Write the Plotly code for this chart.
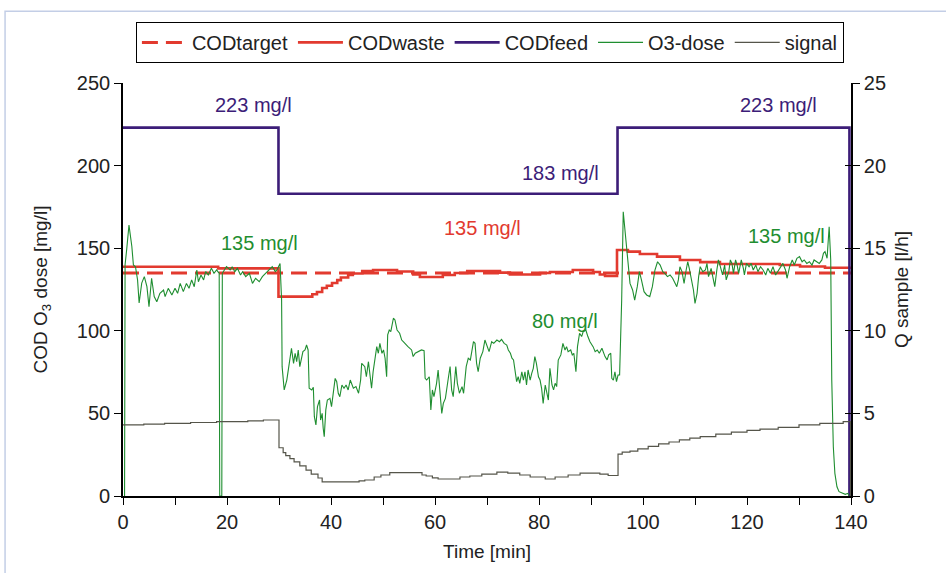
import plotly.graph_objects as go

# ---------------- data ----------------
target_x = [0, 140]
target_y = [135, 135]

waste_x = [0, 18.3, 29.9, 36.4, 37.3, 38.3, 39.2, 40.2, 41.2, 41.9, 43.3, 44.2, 46.0, 48.1,
           52.7, 55.8, 57.1, 61.5, 63.8, 66.2, 72.5, 74.4, 80.2, 82.1, 86.5, 90.4, 91.7,
           92.7, 95.0, 97.1, 99.4, 102.7, 107.1, 111.0, 114.8, 126.3, 130.2, 135.0, 140.0]
waste_y = [138.8, 137.8, 120.7, 122.1, 123.5, 125.9, 127.3, 128.9, 130.7, 132.3, 133.8, 134.7,
           136.2, 136.8, 135.9, 134.1, 132.6, 133.8, 135.0, 136.2, 135.2, 134.1, 135.0, 135.6,
           136.8, 135.6, 134.1, 133.2, 148.9, 147.9, 146.5, 144.9, 142.9, 141.6, 140.4, 139.8,
           138.9, 138.2, 137.8]

feed_x = [0, 29.9, 95.1, 139.7]
feed_y = [223, 183, 223, 0]

o3_x = [0.3, 0.4, 0.7, 1.15, 1.7, 2.0, 2.4, 2.8, 3.1, 3.6, 4.1, 4.6, 5.0, 5.5, 6.0, 6.5, 7.1,
        7.8, 8.1, 8.7, 9.4, 10.0, 10.5, 11.0, 11.6, 12.2, 12.7, 13.2, 13.7, 14.2, 14.5, 15.0,
        15.5, 15.9, 16.4, 17.0, 17.5, 18.0, 18.5, 18.6, 19.0, 19.1, 19.9, 20.6, 21.0, 21.5,
        22.0, 22.6, 23.0, 23.6, 24.3, 24.9, 25.5, 26.2, 26.8, 27.4, 28.1, 28.7, 29.3, 29.6,
        30.2, 30.5, 30.6, 31.0, 31.5, 32.0, 32.4, 32.8, 33.1, 33.4, 33.7, 34.0, 34.6, 35.0,
        35.3, 35.6, 35.8, 36.3, 36.6, 36.8, 37.1, 37.4, 37.8, 38.0, 38.3, 38.5, 38.7, 39.0,
        39.3, 39.8, 40.1, 40.8, 41.1, 41.4, 41.7, 42.1, 42.5, 42.9, 43.3, 43.7, 44.0, 44.3,
        44.8, 45.3, 45.7, 45.9, 46.5, 46.8, 47.2, 47.5, 47.8, 48.1, 48.5, 48.8, 49.1, 49.4,
        49.8, 50.1, 50.4, 50.7, 50.9, 51.2, 51.5, 52.0, 52.3, 52.7, 53.2, 53.6, 53.9, 54.4,
        54.8, 55.5, 55.8, 56.2, 56.8, 57.4, 57.9, 58.1, 58.4, 58.9, 59.2, 59.5, 59.8, 60.3,
        60.6, 60.9, 61.3, 61.6, 62.0, 62.6, 62.9, 63.2, 63.5, 64.0, 64.3, 64.7, 65.2, 65.5,
        66.0, 66.4, 66.8, 67.4, 67.7, 68.0, 68.3, 68.7, 69.2, 69.6, 69.9, 70.4, 70.9, 71.3,
        71.9, 72.4, 72.8, 73.3, 73.8, 74.1, 74.5, 74.8, 75.1, 75.4, 75.7, 76.0, 76.3, 76.7,
        77.0, 77.3, 77.6, 77.9, 78.3, 78.6, 78.9, 79.2, 79.5, 79.9, 80.2, 80.5, 80.8, 81.2,
        81.5, 81.8, 82.1, 82.5, 82.8, 83.1, 83.4, 83.7, 84.2, 84.6, 85.0, 85.3, 85.6, 86.1,
        86.4, 86.7, 87.1, 87.4, 87.8, 88.2, 88.5, 89.0, 89.4, 89.8, 90.4, 90.8, 91.2, 91.6,
        92.1, 92.4, 92.7, 93.1, 93.4, 93.8, 94.0, 94.3, 94.6, 94.9, 95.2, 95.5, 95.9, 96.2,
        96.7, 97.2, 97.5, 98.0, 98.4, 98.9, 99.3, 99.7, 100.2, 100.7, 101.3, 101.8, 102.3,
        102.8, 103.3, 103.8, 104.2, 104.7, 105.2, 105.7, 106.2, 106.5, 106.8, 107.1, 107.5,
        107.9, 108.3, 108.6, 108.9, 109.4, 109.7, 110.0, 110.4, 110.7, 111.0, 111.5, 112.0,
        112.3, 112.6, 113.1, 113.5, 113.8, 114.2, 114.5, 114.8, 115.3, 115.7, 116.0, 116.5,
        116.8, 117.1, 117.4, 117.8, 118.1, 118.4, 118.9, 119.3, 119.5, 119.9, 120.4, 120.8,
        121.2, 121.7, 122.1, 122.6, 123.1, 123.6, 124.0, 124.5, 125.0, 125.5, 125.9, 126.4,
        126.9, 127.4, 127.7, 128.2, 128.7, 129.1, 129.6, 130.1, 130.6, 131.0, 131.5, 132.0,
        132.5, 132.9, 133.4, 133.9, 134.4, 134.7, 135.0, 135.4, 135.8, 136.1, 136.3, 136.45,
        136.6, 136.9, 137.3, 137.7, 138.3, 138.9, 139.4, 139.6]
o3_y = [0, 140.0, 148.9, 164.0, 151.0, 139.8, 138.8, 130.8, 116.8, 128.9, 132.8, 126.7, 114.6,
        131.8, 120.7, 117.6, 122.7, 124.7, 120.7, 125.7, 121.7, 125.7, 122.7, 128.7, 123.7,
        128.7, 125.7, 130.8, 126.7, 136.8, 129.7, 133.8, 130.8, 135.8, 133.8, 137.8, 134.8,
        136.8, 134.8, 0, 0, 134.8, 138.8, 136.8, 138.8, 135.8, 137.8, 133.8, 135.8, 132.8,
        134.8, 128.7, 131.8, 129.7, 132.8, 134.8, 136.8, 138.8, 135.8, 136.8, 140.8, 118.6,
        78.3, 64.2, 70.2, 80.3, 89.4, 80.3, 86.4, 81.3, 88.4, 78.3, 87.4, 88.4, 91.4, 88.4,
        65.2, 64.2, 65.8, 48.0, 43.0, 54.1, 58.1, 46.0, 50.0, 41.0, 35.9, 52.1, 58.1, 59.1,
        54.1, 71.2, 69.2, 62.2, 60.1, 67.2, 65.2, 67.2, 64.2, 70.2, 68.2, 65.2, 66.2, 62.2,
        70.2, 80.3, 78.3, 72.2, 81.3, 71.2, 65.2, 75.2, 83.4, 90.4, 86.4, 92.4, 86.4, 88.4,
        83.4, 72.2, 97.5, 100.5, 99.5, 107.6, 106.6, 100.5, 98.5, 94.4, 93.4, 91.4, 90.4,
        88.4, 84.4, 86.4, 87.4, 88.4, 88.0, 71.2, 70.2, 72.2, 52.1, 64.2, 60.1, 68.2, 76.3,
        66.2, 50.0, 56.1, 59.1, 72.2, 78.3, 64.2, 60.1, 78.3, 68.2, 62.2, 66.2, 62.2, 78.3,
        83.4, 82.4, 93.4, 92.4, 80.3, 75.2, 83.4, 87.4, 94.4, 91.4, 87.4, 93.4, 92.4, 94.4,
        93.4, 94.8, 92.4, 91.4, 88.4, 86.4, 83.4, 82.4, 76.3, 69.2, 72.2, 68.2, 75.2, 70.2,
        75.2, 67.2, 76.3, 70.2, 74.2, 77.3, 84.4, 80.3, 72.2, 70.2, 65.2, 56.1, 67.2, 62.2,
        58.1, 77.3, 67.2, 64.2, 68.2, 66.2, 82.3, 85.4, 92.4, 88.4, 90.4, 87.4, 88.4, 85.4,
        86.4, 75.2, 90.4, 98.5, 96.5, 99.5, 100.5, 96.5, 93.4, 90.4, 87.4, 88.4, 86.4, 89.4,
        86.4, 84.4, 82.4, 85.4, 86.4, 71.2, 70.2, 75.2, 69.2, 73.2, 73.2, 118.6, 172.1, 155.0,
        140.8, 128.7, 124.7, 118.6, 126.7, 135.8, 130.8, 123.7, 121.7, 120.7, 126.7, 136.8,
        141.8, 139.8, 135.8, 134.8, 132.8, 133.8, 131.8, 128.7, 126.7, 130.8, 138.8, 135.8,
        128.7, 136.8, 141.8, 137.8, 130.8, 124.7, 116.6, 122.7, 132.8, 138.8, 135.8, 136.8,
        140.8, 132.8, 137.8, 130.8, 126.7, 136.8, 142.9, 139.8, 133.8, 139.8, 130.8, 135.8,
        142.9, 140.8, 134.8, 142.9, 139.8, 134.8, 142.9, 137.8, 133.8, 140.8, 138.8, 140.8,
        136.8, 139.8, 135.8, 138.8, 136.8, 133.8, 137.8, 134.8, 138.8, 133.8, 135.8, 138.8,
        140.8, 136.8, 131.8, 138.8, 142.9, 139.8, 143.9, 144.9, 141.8, 142.9, 140.8, 141.8,
        139.8, 142.9, 141.8, 140.8, 142.9, 146.9, 147.9, 143.9, 163.0, 142.9, 70.2, 50.0,
        29.8, 13.7, 5.6, 2.6, 1.8, 1.0, 1.6, 0]

signal_x = [0, 4, 8, 13, 18, 24, 27, 30.0, 30.8, 31.3, 32.1, 32.9, 34.0, 35.2, 36.2, 37.5,
            38.3, 45.4, 46.5, 48.3, 49.6, 51.3, 57.5, 58.3, 59.5, 60.6, 64.8, 66.7, 69.0,
            71.9, 74.0, 76.3, 78.3, 81.2, 83.1, 85.6, 87.9, 91.7, 93.3, 95.2, 96.0, 97.5,
            99.0, 101.0, 103.0, 105.0, 107.0, 109.0, 111.0, 114.0, 117.0, 120.0, 122.5,
            126.0, 130.0, 134.0, 138.5, 139.9]
signal_y = [4.3, 4.35, 4.4, 4.45, 4.5, 4.55, 4.6, 2.92, 2.62, 2.44, 2.26, 2.06, 1.82, 1.57,
            1.33, 1.09, 0.85, 0.91, 0.97, 1.15, 1.27, 1.42, 1.27, 1.21, 1.1, 1.03, 1.15, 1.21,
            1.33, 1.45, 1.39, 1.27, 1.15, 1.03, 1.15, 1.27, 1.39, 1.33, 1.24, 2.54, 2.66,
            2.72, 2.85, 3.0, 3.15, 3.27, 3.4, 3.5, 3.6, 3.75, 3.87, 3.97, 4.05, 4.15, 4.3,
            4.4, 4.5, 0]

# annotation labels
labels_text = ["223 mg/l", "223 mg/l", "183 mg/l", "135 mg/l", "135 mg/l", "80 mg/l", "135 mg/l"]
labels_x = [25.0, 126.0, 84.2, 26.3, 69.2, 85.0, 127.5]
labels_y = [236.7, 236.7, 195.5, 153.0, 162.5, 106.0, 157.4]

RED = "#e23a2f"
PURPLE = "#3c1d78"
GREEN = "#1f8e30"
SIGNAL = "#55554a"
labels_col = [PURPLE, PURPLE, PURPLE, GREEN, RED, GREEN, GREEN]

FONT = "Liberation Sans, Arial, sans-serif"
FS = 20

fig = go.Figure()
fig.add_trace(go.Scatter(x=target_x, y=target_y, name="CODtarget", mode="lines",
                         line=dict(color=RED, width=3, dash="16px,8px")))
fig.add_trace(go.Scatter(x=waste_x, y=waste_y, name="CODwaste", mode="lines",
                         line=dict(color=RED, width=2.6, shape="hv")))
fig.add_trace(go.Scatter(x=feed_x, y=feed_y, name="CODfeed", mode="lines",
                         line=dict(color=PURPLE, width=2.6, shape="hv")))
fig.add_trace(go.Scatter(x=o3_x, y=o3_y, name="O3-dose", mode="lines",
                         line=dict(color=GREEN, width=1.1)))
fig.add_trace(go.Scatter(x=signal_x, y=signal_y, name="signal", mode="lines", yaxis="y2",
                         line=dict(color=SIGNAL, width=1.2, shape="hv")))

for t, x, y, c in zip(labels_text, labels_x, labels_y, labels_col):
    fig.add_annotation(x=x, y=y, text=t, showarrow=False, xref="x", yref="y",
                       font=dict(size=FS, color=c, family=FONT))

axis_common = dict(showline=True, linecolor="black", linewidth=1.6, ticks="outside",
                   ticklen=7, tickcolor="black", tickwidth=1, showgrid=False,
                   zeroline=False, tickfont=dict(size=FS, color="#222", family=FONT))

fig.update_layout(
    width=946, height=573,
    margin=dict(l=123, r=95, t=83, b=77),
    paper_bgcolor="white", plot_bgcolor="white",
    font=dict(family=FONT, size=FS, color="#222"),
    xaxis=dict(range=[0, 140], dtick=20, tick0=0,
               minor=dict(dtick=10, ticks="outside", ticklen=7, tickcolor="black"),
               title=dict(text="Time [min]", font=dict(size=FS - 1), standoff=13),
               **axis_common),
    yaxis=dict(range=[0, 250], dtick=50,
               title=dict(text="COD O<sub>3</sub> dose [mg/l]", font=dict(size=FS - 1), standoff=24),
               **axis_common),
    yaxis2=dict(range=[0, 25], dtick=5, overlaying="y", side="right", anchor="x",
                title=dict(text="Q sample [l/h]", font=dict(size=FS - 1), standoff=10),
                **axis_common),
    yaxis3=dict(range=[0, 25], dtick=5, overlaying="y", side="right", anchor="x",
                showline=False, ticks="inside", ticklen=6, tickcolor="black",
                showticklabels=False, showgrid=False, zeroline=False),
    legend=dict(orientation="h", x=0.504, xanchor="center", y=1.148, yanchor="top",
                bordercolor="black", borderwidth=1, bgcolor="white",
                font=dict(size=FS, color="#222"), itemwidth=45, tracegroupgap=0),
    showlegend=True,
)
fig.add_trace(go.Scatter(x=[0], y=[0], yaxis="y3", mode="markers", marker=dict(opacity=0),
                         showlegend=False, hoverinfo="skip"))

# light blue frame
fig.add_shape(type="rect", xref="paper", yref="paper", x0=-0.162, x1=1.2, y0=-0.25, y1=1.174,
              line=dict(color="#c3cee6", width=1.5), fillcolor="rgba(0,0,0,0)", layer="below")

fig.write_html("out.html", config={"displayModeBar": False},
               post_script="document.body.style.margin='0';")
